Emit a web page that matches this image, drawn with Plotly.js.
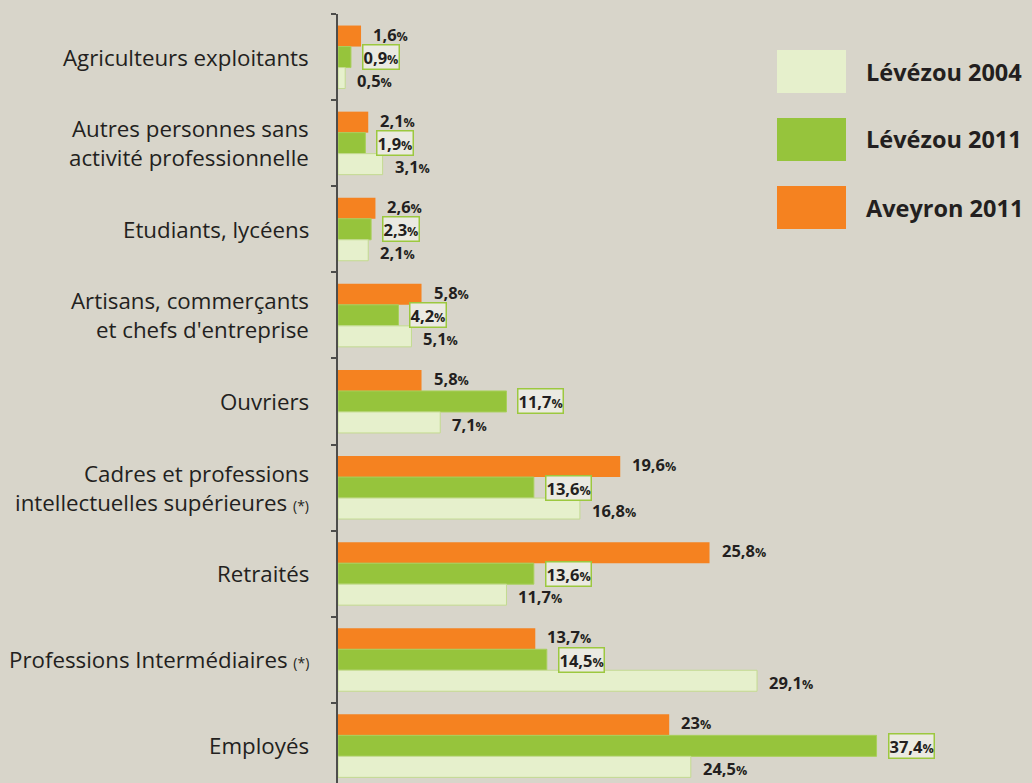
<!DOCTYPE html>
<html>
<head>
<meta charset="utf-8">
<script src="https://cdn.plot.ly/plotly-3.0.1.min.js"></script>
<style>
html,body{margin:0;padding:0;background:#d8d5ca;}
#chart{width:1032px;height:783px;}
</style>
</head>
<body>
<div id="chart"></div>
<script>
// ---- DATA ----
const categories = [
  "Agriculteurs exploitants",
  "Autres personnes sans<br>activité professionnelle",
  "Etudiants, lycéens",
  "Artisans, commerçants<br>et chefs d'entreprise",
  "Ouvriers",
  "Cadres et professions<br>intellectuelles supérieures (*)",
  "Retraités",
  "Professions Intermédiaires (*)",
  "Employés"
];
const seriesNames = ["Lévézou 2004", "Lévézou 2011", "Aveyron 2011"];
const levezou2004 = [0.5, 3.1, 2.1, 5.1, 7.1, 16.8, 11.7, 29.1, 24.5];
const levezou2011 = [0.9, 1.9, 2.3, 4.2, 11.7, 13.6, 13.6, 14.5, 37.4];
const aveyron2011 = [1.6, 2.1, 2.6, 5.8, 5.8, 19.6, 25.8, 13.7, 23];

// ---- STYLE ----
const BG = '#d8d5ca';
const TXT = '#231f20';
const C_ORANGE = '#f58220';
const C_GREEN = '#96c43c';
const C_LIGHT = '#e6f0cc';
const FONT = '"Open Sans", Roboto, sans-serif';

const W = 1032, H = 783;
const M = {l: 338, r: 0, t: 14, b: 0};
const PX_PER_UNIT = 14.4;
const xMax = (W - M.l - M.r) / PX_PER_UNIT;
const plotH = H - M.t - M.b;
const catPx = 86.1;
const yBottom = plotH / catPx - 0.5;

const px2x = px => (px - M.l) / (W - M.l - M.r);
const py2y = py => (H - M.b - py) / plotH;

const traces = [
  {name: seriesNames[2], x: aveyron2011, color: C_ORANGE, line: {width: 0}},
  {name: seriesNames[1], x: levezou2011, color: C_GREEN, line: {color: '#a9cf5c', width: 1}},
  {name: seriesNames[0], x: levezou2004, color: C_LIGHT, line: {color: '#c3da90', width: 1}}
].map(s => ({
  type: 'bar', orientation: 'h', name: s.name,
  x: s.x, y: categories,
  marker: {color: s.color, line: s.line},
  hoverinfo: 'skip', showlegend: false
}));

const fmt = v => '<b>' + String(v).replace('.', ',') + '<span style="font-size:12.5px">%</span></b>';

const annotations = [];
// category labels
categories.forEach((c, i) => {
  const lines = c.split('<br>');
  lines.forEach((ln, k) => {
    const t = ln.replace('(*)', '<span style="font-size:14px">(*)</span>');
    annotations.push({
      xref: 'paper', yref: 'y', x: 0, y: i, xanchor: 'right', yanchor: 'middle',
      xshift: -27, yshift: ((lines.length - 1) / 2 - k) * 29,
      text: t, showarrow: false,
      font: {family: FONT, size: 22.3, color: TXT}
    });
  });
});
// value labels
const valueSets = [
  {vals: aveyron2011, yshift: 23, box: false},
  {vals: levezou2011, yshift: 0, box: true},
  {vals: levezou2004, yshift: -23, box: false}
];
valueSets.forEach(s => {
  s.vals.forEach((v, i) => {
    const a = {
      xref: 'x', yref: 'y', x: v, y: i, xanchor: 'left', yanchor: 'middle',
      xshift: s.box ? 11 : 10, yshift: s.yshift,
      text: fmt(v), showarrow: false,
      font: {family: FONT, size: 16.5, color: TXT}
    };
    if (s.box) {
      a.bordercolor = '#9cc83f'; a.borderwidth = 1.5; a.borderpad = 0; a.bgcolor = '#ebeae2';
    }
    annotations.push(a);
  });
});

// legend (drawn)
const legendColors = [C_LIGHT, C_GREEN, C_ORANGE];
const legendTop = [50, 118, 186];
const shapes = [];
seriesNames.forEach((n, k) => {
  shapes.push({
    type: 'rect', xref: 'paper', yref: 'paper',
    x0: px2x(777), x1: px2x(846), y0: py2y(legendTop[k] + 43), y1: py2y(legendTop[k]),
    fillcolor: legendColors[k], line: {width: 0}
  });
  annotations.push({
    xref: 'paper', yref: 'paper', x: px2x(864), y: py2y(legendTop[k] + 21.5),
    xanchor: 'left', yanchor: 'middle', text: '<b>' + n + '</b>', showarrow: false,
    font: {family: FONT, size: 23.5, color: TXT}
  });
});

const layout = {
  width: W, height: H,
  margin: M,
  paper_bgcolor: BG, plot_bgcolor: BG,
  barmode: 'group', bargap: 0.268, bargroupgap: 0,
  xaxis: {range: [0, xMax], visible: false, fixedrange: true},
  yaxis: {
    type: 'category', range: [yBottom, -0.5],
    showline: true, linecolor: '#4d4d4b', linewidth: 2,
    ticks: 'outside', tickson: 'boundaries', ticklen: 5, tickwidth: 2, tickcolor: '#4d4d4b',
    showticklabels: false, showgrid: false, zeroline: false, fixedrange: true
  },
  annotations: annotations,
  shapes: shapes,
  showlegend: false
};

Plotly.newPlot('chart', traces, layout, {displayModeBar: false, staticPlot: true});
</script>
</body>
</html>
